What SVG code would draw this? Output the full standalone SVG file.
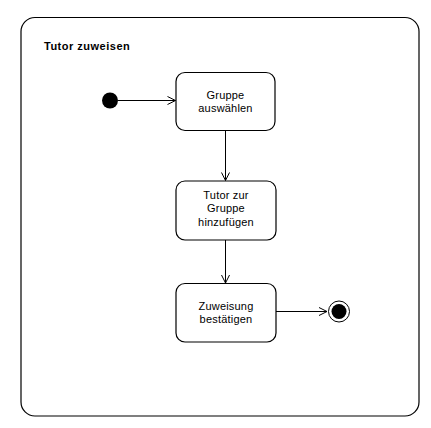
<svg xmlns="http://www.w3.org/2000/svg" width="431" height="428" viewBox="0 0 431 428">
<style>
.frame{fill:#fff;stroke:#000;stroke-width:1.2}
.node{fill:#fff;stroke:#000;stroke-width:1.2}
.lbl{font-family:"Liberation Sans",Arial,sans-serif;font-size:11px;letter-spacing:0.2px;fill:#000;text-anchor:middle}
.title{font-family:"Liberation Sans",Arial,sans-serif;font-size:11px;letter-spacing:0.5px;font-weight:bold;fill:#000}
.edge{stroke:#000;stroke-width:1;fill:none;marker-end:url(#arr)}
</style>
<defs>
<marker id="arr" markerWidth="10" markerHeight="10" refX="9" refY="5" orient="auto" markerUnits="userSpaceOnUse">
<path d="M1,1 L9,5 L1,9" fill="none" stroke="#000" stroke-width="1"/>
</marker>
</defs>
<rect width="431" height="428" fill="#fff"/>
<g id="frame">
<rect class="frame" x="21" y="17.5" width="398" height="398.5" rx="14" ry="14"/>
<text class="title" x="44" y="49.5">Tutor zuweisen</text>
</g>
<g id="connectors">
<line class="edge" x1="118" y1="100.5" x2="175.5" y2="100.5"/>
<line class="edge" x1="225.5" y1="131" x2="225.5" y2="180.5"/>
<line class="edge" x1="225.5" y1="240" x2="225.5" y2="283"/>
<line class="edge" x1="276" y1="311.5" x2="327" y2="311.5"/>
</g>
<g id="start">
<circle cx="110" cy="100.5" r="8" fill="#000"/>
</g>
<g id="n1">
<rect class="node" x="176" y="72.5" width="99" height="58" rx="9" ry="9"/>
<text class="lbl" x="225.5" y="98.5">Gruppe</text>
<text class="lbl" x="225.5" y="111.5">auswählen</text>
</g>
<g id="n2">
<rect class="node" x="176" y="181" width="100" height="59" rx="9" ry="9"/>
<text class="lbl" x="226" y="198.5">Tutor zur</text>
<text class="lbl" x="226" y="212">Gruppe</text>
<text class="lbl" x="226" y="225.5">hinzufügen</text>
</g>
<g id="n3">
<rect class="node" x="176" y="283.5" width="100" height="58.5" rx="9" ry="9"/>
<text class="lbl" x="226" y="309.5">Zuweisung</text>
<text class="lbl" x="226" y="323">bestätigen</text>
</g>
<g id="end">
<circle cx="339" cy="311.5" r="10.5" fill="#fff" stroke="#000" stroke-width="1"/>
<circle cx="339" cy="311.5" r="7.5" fill="#000"/>
</g>
</svg>
